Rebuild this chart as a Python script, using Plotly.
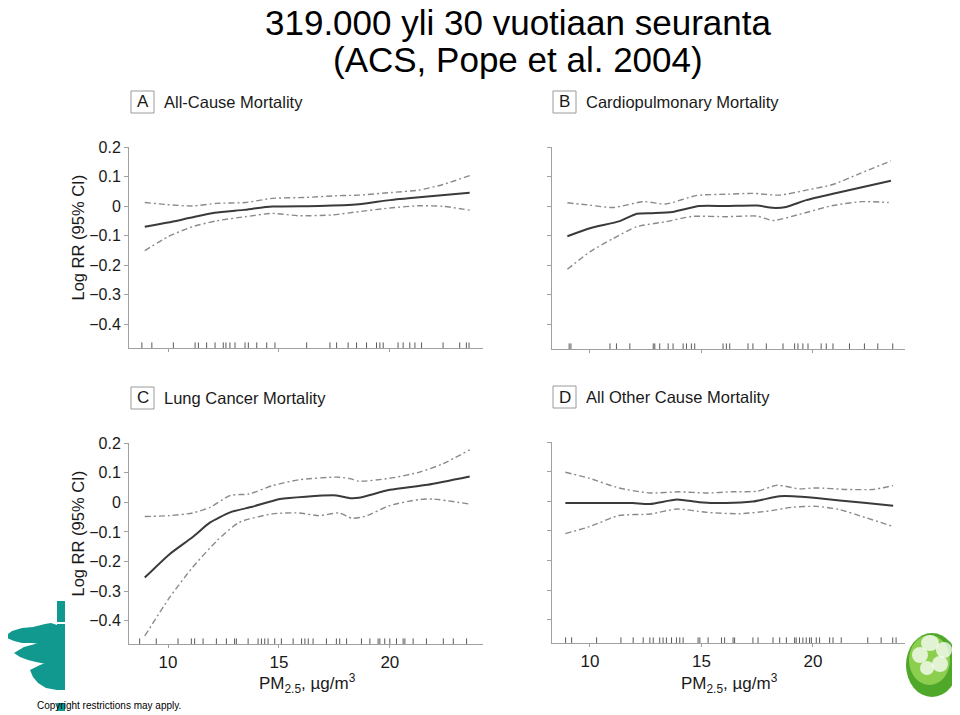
import plotly.graph_objects as go

W, H = 960, 715

# ---------------- data ----------------
# Panel A: All-Cause Mortality
a_mean_x = [8.95, 10.0, 11.0, 12.1, 13.4, 14.7, 16.8, 18.6, 20.0, 21.7, 23.6]
a_mean_y = [-0.070, -0.056, -0.040, -0.023, -0.013, -0.002, 0.000, 0.006, 0.020, 0.032, 0.045]
a_up_x = [8.95, 9.95, 11.1, 12.2, 13.5, 14.7, 16.2, 17.6, 18.6, 20.1, 21.3, 22.4, 23.6]
a_up_y = [0.012, 0.005, 0.000, 0.009, 0.012, 0.026, 0.029, 0.035, 0.037, 0.046, 0.054, 0.073, 0.103]
a_lo_x = [8.95, 10.0, 11.1, 12.2, 13.5, 14.7, 15.9, 17.4, 18.6, 20.1, 21.3, 22.4, 23.6]
a_lo_y = [-0.151, -0.104, -0.070, -0.050, -0.036, -0.025, -0.033, -0.030, -0.019, -0.006, 0.001, -0.001, -0.014]
a_rug = [8.82, 9.27, 10.24, 11.22, 11.37, 11.74, 12.12, 12.49, 12.61, 12.79, 13.02, 13.47,
         13.62, 14.0, 14.45, 14.82, 16.25, 17.3, 17.6, 18.12, 18.5, 18.95, 19.4, 19.55,
         19.7, 20.37, 20.6, 20.9, 21.13, 21.43, 22.4, 23.15, 23.45, 23.57]

# Panel B: Cardiopulmonary Mortality
b_mean_x = [8.99, 10.0, 11.34, 12.1, 12.8, 13.7, 14.9, 16.1, 17.5, 18.2, 18.8, 19.7, 20.9, 22.1, 23.5]
b_mean_y = [-0.102, -0.075, -0.051, -0.026, -0.024, -0.020, 0.000, 0.000, 0.002, -0.006, -0.003, 0.020, 0.042, 0.062, 0.086]
b_up_x = [8.99, 10.0, 11.04, 12.4, 13.4, 14.8, 16.1, 17.3, 18.5, 19.7, 20.9, 22.1, 23.5]
b_up_y = [0.011, 0.003, -0.005, 0.015, 0.007, 0.036, 0.040, 0.043, 0.037, 0.054, 0.073, 0.110, 0.153]
b_lo_x = [8.99, 10.0, 11.04, 12.1, 13.4, 14.6, 16.1, 17.5, 18.2, 19.4, 20.9, 22.2, 23.4]
b_lo_y = [-0.214, -0.155, -0.110, -0.070, -0.053, -0.035, -0.036, -0.034, -0.049, -0.028, 0.002, 0.015, 0.012]
b_rug = [9.07, 9.15, 10.9, 11.19, 11.79, 12.84, 12.91, 13.13, 13.51, 13.73, 14.18, 14.33,
         14.55, 14.7, 15.97, 16.12, 16.27, 17.09, 17.31, 17.91, 18.66, 19.18, 19.33, 19.55,
         19.78, 20.37, 20.6, 20.9, 21.64, 22.31, 22.91, 23.58]

# Panel C: Lung Cancer Mortality
c_mean_x = [8.95, 10.07, 11.1, 11.9, 12.8, 13.8, 15.05, 16.2, 17.6, 18.2, 18.6, 20.0, 21.7, 23.6]
c_mean_y = [-0.254, -0.175, -0.118, -0.068, -0.034, -0.015, 0.011, 0.019, 0.023, 0.014, 0.015, 0.042, 0.059, 0.087]
c_up_x = [8.95, 10.07, 11.1, 11.9, 12.8, 13.65, 14.7, 15.9, 17.6, 18.2, 18.6, 20.0, 21.3, 22.4, 23.6]
c_up_y = [-0.048, -0.045, -0.036, -0.017, 0.023, 0.028, 0.056, 0.076, 0.085, 0.080, 0.071, 0.081, 0.101, 0.130, 0.177]
c_lo_x = [8.95, 10.07, 11.1, 12.2, 13.2, 14.7, 15.9, 16.8, 17.7, 18.3, 18.9, 20.0, 21.3, 21.95, 23.6]
c_lo_y = [-0.451, -0.321, -0.220, -0.130, -0.068, -0.039, -0.036, -0.045, -0.036, -0.054, -0.047, -0.011, 0.009, 0.011, -0.006]
c_rug = [8.72, 9.47, 10.45, 11.05, 11.2, 11.58, 12.18, 12.63, 13.0, 13.08, 13.61, 14.06,
         14.21, 14.36, 14.51, 14.81, 15.11, 15.64, 16.02, 16.17, 16.32, 16.54, 17.14, 17.59,
         17.74, 18.05, 18.72, 19.1, 19.47, 19.55, 19.77, 20.0, 20.3, 20.6, 20.68, 21.05,
         21.65, 22.41, 22.86, 23.46]

# Panel D: All Other Cause Mortality
d_mean_x = [8.9, 10.75, 11.9, 12.7, 13.9, 14.9, 16.1, 17.3, 18.5, 19.1, 20.15, 21.2, 22.4, 23.6]
d_mean_y = [-0.006, -0.006, -0.006, -0.009, 0.006, -0.003, -0.006, -0.001, 0.017, 0.017, 0.011, 0.003, -0.006, -0.015]
d_up_x = [8.9, 10.0, 11.3, 12.7, 14.0, 15.2, 16.4, 17.5, 18.4, 19.4, 20.15, 21.5, 22.7, 23.6]
d_up_y = [0.098, 0.077, 0.045, 0.028, 0.032, 0.028, 0.032, 0.034, 0.054, 0.042, 0.045, 0.040, 0.040, 0.053]
d_lo_x = [8.9, 10.0, 11.3, 12.7, 13.9, 15.2, 16.7, 17.9, 19.1, 20.15, 21.2, 22.4, 23.6]
d_lo_y = [-0.109, -0.085, -0.048, -0.043, -0.026, -0.037, -0.042, -0.034, -0.020, -0.017, -0.028, -0.056, -0.085]
d_rug = [8.91, 9.18, 10.3, 11.39, 11.94, 12.39, 12.69, 12.84, 13.13, 13.28, 13.43, 13.66,
         13.88, 14.03, 14.18, 14.85, 14.93, 15.3, 15.9, 16.04, 16.42, 16.49, 17.31, 17.54,
         18.21, 18.51, 18.81, 19.18, 19.25, 19.4, 19.55, 19.7, 19.85, 19.93, 20.15, 20.3,
         20.75, 20.9, 21.27, 22.46, 23.06, 23.58, 23.73]

x_ticks = [10, 15, 20]
x_tick_labels = ["10", "15", "20"]
y_ticks = [-0.4, -0.3, -0.2, -0.1, 0, 0.1, 0.2]
y_tick_labels = ["\u22120.4", "\u22120.3", "\u22120.2", "\u22120.1", "0", "0.1", "0.2"]

panel_letters = ["A", "B", "C", "D"]
panel_titles = ["All-Cause Mortality", "Cardiopulmonary Mortality",
                "Lung Cancer Mortality", "All Other Cause Mortality"]
title_lines = ["319.000 yli 30 vuotiaan seuranta", "(ACS, Pope et al. 2004)"]
y_title = "Log RR (95% CI)"
x_title = "PM<sub>2.5</sub>, \u00b5g/m<sup>3</sup>"
copyright_text = "Copyright restrictions may apply."

# ---------------- layout helpers (screen pixel -> paper) ----------------
OFF = 8  # page body margin


def fx(p):
    return (p - OFF) / W


def fy(p):
    return 1 - (p - OFF) / H


FONT = "Liberation Sans, Arial, sans-serif"
MEAN_C = "#3a3a3a"
CI_C = "#8a8a8a"
AX_C = "#a0a0a0"
TXT_C = "#1a1a1a"
CI_DASH = "6px,3px,2px,3px"

# panel screen-pixel boxes: (left, right, top, bottom), x range, y range
panels = [
    dict(box=(129, 483, 147, 348), xr=[8.24, 24.2], yr=[-0.481, 0.2]),
    dict(box=(552, 905, 147, 349), xr=[8.30, 24.13], yr=[-0.484, 0.2]),
    dict(box=(129, 483, 443, 644), xr=[8.24, 24.2], yr=[-0.478, 0.2]),
    dict(box=(552, 905, 442, 643), xr=[8.30, 24.13], yr=[-0.478, 0.2]),
]
series = [
    (a_mean_x, a_mean_y, a_up_x, a_up_y, a_lo_x, a_lo_y, a_rug),
    (b_mean_x, b_mean_y, b_up_x, b_up_y, b_lo_x, b_lo_y, b_rug),
    (c_mean_x, c_mean_y, c_up_x, c_up_y, c_lo_x, c_lo_y, c_rug),
    (d_mean_x, d_mean_y, d_up_x, d_up_y, d_lo_x, d_lo_y, d_rug),
]

fig = go.Figure()
layout = dict(
    width=W, height=H,
    margin=dict(l=0, r=0, t=0, b=0, autoexpand=False),
    paper_bgcolor="white", plot_bgcolor="white",
    showlegend=False,
    font=dict(family=FONT, color=TXT_C),
)
annotations = []
shapes = []

for i, (p, s) in enumerate(zip(panels, series)):
    n = "" if i == 0 else str(i + 1)
    xa, ya = "x" + n, "y" + n
    l, r, t, b = p["box"]
    mx, my, ux, uy, lx, ly, rug = s
    fig.add_trace(go.Scatter(x=ux, y=uy, mode="lines", xaxis=xa, yaxis=ya,
                             line=dict(color=CI_C, width=1.4, dash=CI_DASH, shape="spline", smoothing=0.6)))
    fig.add_trace(go.Scatter(x=lx, y=ly, mode="lines", xaxis=xa, yaxis=ya,
                             line=dict(color=CI_C, width=1.4, dash=CI_DASH, shape="spline", smoothing=0.6)))
    fig.add_trace(go.Scatter(x=mx, y=my, mode="lines", xaxis=xa, yaxis=ya,
                             line=dict(color=MEAN_C, width=2, shape="spline", smoothing=0.6)))
    fig.add_trace(go.Scatter(x=rug, y=[p["yr"][0]] * len(rug), mode="markers", xaxis=xa, yaxis=ya,
                             marker=dict(symbol="line-ns", size=8, line=dict(color="#5a5a5a", width=1))))
    bottom_row = i >= 2
    left_col = i % 2 == 0
    layout["xaxis" + n] = dict(
        domain=[fx(l), fx(r)], range=p["xr"], anchor=ya, automargin=False,
        showline=True, linecolor=AX_C, linewidth=1, mirror=False,
        ticks="outside", ticklen=3, tickcolor=AX_C, tickwidth=1,
        tickvals=x_ticks, ticktext=x_tick_labels, showticklabels=bottom_row,
        tickfont=dict(size=17, color=TXT_C),
        showgrid=False, zeroline=False, fixedrange=True,
    )
    layout["yaxis" + n] = dict(
        domain=[fy(b), fy(t)], range=p["yr"], anchor=xa, automargin=False,
        showline=True, linecolor=AX_C, linewidth=1,
        ticks="outside", ticklen=4, tickcolor=AX_C, tickwidth=1,
        tickvals=y_ticks, ticktext=y_tick_labels, showticklabels=left_col,
        tickfont=dict(size=16, color=TXT_C),
        showgrid=False, zeroline=False, fixedrange=True,
    )
    # header box with letter + title
    bx0 = l + 2 if left_col else l + 1
    by0 = t - 56
    shapes.append(dict(type="rect", xref="paper", yref="paper",
                       x0=fx(bx0), x1=fx(bx0 + 23), y0=fy(by0), y1=fy(by0 + 22),
                       line=dict(color="#9a9a9a", width=1), fillcolor="white"))
    annotations.append(dict(text=panel_letters[i], xref="paper", yref="paper",
                            x=fx(bx0 + 11.5), y=fy(by0 + 11), xanchor="center", yanchor="middle",
                            showarrow=False, font=dict(size=17, color=TXT_C)))
    annotations.append(dict(text=panel_titles[i], xref="paper", yref="paper",
                            x=fx(bx0 + 31), y=fy(by0 + 11), xanchor="left", yanchor="middle",
                            showarrow=False, font=dict(size=16.5, color=TXT_C)))
    if left_col:
        annotations.append(dict(text=y_title, xref="paper", yref="paper",
                                x=fx(77), y=fy((t + b) / 2 - 10), textangle=-90,
                                xanchor="center", yanchor="middle", showarrow=False,
                                font=dict(size=16.5, color=TXT_C)))
    if bottom_row:
        annotations.append(dict(text=x_title, xref="paper", yref="paper",
                                x=fx((l + r) / 2 + 1), y=fy(683), xanchor="center", yanchor="middle",
                                showarrow=False, font=dict(size=17, color=TXT_C)))

# slide title
annotations.append(dict(text=title_lines[0], xref="paper", yref="paper", x=fx(518), y=fy(23),
                        xanchor="center", yanchor="middle", showarrow=False,
                        font=dict(size=35, color="#000000")))
annotations.append(dict(text=title_lines[1], xref="paper", yref="paper", x=fx(518), y=fy(59),
                        xanchor="center", yanchor="middle", showarrow=False,
                        font=dict(size=35, color="#000000")))
annotations.append(dict(text=copyright_text, xref="paper", yref="paper", x=fx(35), y=fy(705),
                        xanchor="left", yanchor="middle", showarrow=False,
                        font=dict(size=10, color="#000000")))


# decorative logos (approximate)
def path(points):
    return "M " + " L ".join(f"{fx(a):.5f},{fy(b):.5f}" for a, b in points) + " Z"


TEAL = "#11998f"
for poly in [
    [(57, 601), (65, 601), (65, 622), (57, 622)],
    [(57, 624), (65, 624), (65, 690), (57, 690)],
    [(57, 703), (65, 703), (65, 711), (57, 711)],
    [(4, 637), (12, 631), (22, 628), (33, 627), (45, 624), (51, 623), (57, 625), (57, 646),
     (45, 645), (33, 643), (22, 643), (14, 641)],
    [(14, 653), (24, 647), (35, 644), (45, 641), (52, 640), (57, 641), (57, 666),
     (46, 664), (36, 662), (28, 660), (20, 657)],
    [(30, 670), (40, 665), (48, 662), (57, 661), (57, 690), (46, 688), (38, 683), (33, 677)],
]:
    shapes.append(dict(type="path", xref="paper", yref="paper", path=path(poly),
                       fillcolor=TEAL, line=dict(width=0)))

# green sphere
shapes.append(dict(type="circle", xref="paper", yref="paper",
                   x0=fx(906), x1=fx(958), y0=fy(633), y1=fy(697),
                   fillcolor="#4fa82a", line=dict(width=0)))
shapes.append(dict(type="circle", xref="paper", yref="paper",
                   x0=fx(909), x1=fx(950), y0=fy(635), y1=fy(685),
                   fillcolor="#8ccf4f", line=dict(width=0)))
for cx, cy, rx, ry in [(930, 643, 9, 8), (944, 650, 8, 8), (920, 655, 8, 8),
                       (940, 664, 8, 8), (927, 668, 7, 7)]:
    shapes.append(dict(type="circle", xref="paper", yref="paper",
                       x0=fx(cx - rx), x1=fx(cx + rx), y0=fy(cy - ry), y1=fy(cy + ry),
                       fillcolor="rgba(255,255,255,0.75)", line=dict(width=0)))

layout["annotations"] = annotations
layout["shapes"] = shapes
fig.update_layout(**layout)
fig.write_html("out.html")
